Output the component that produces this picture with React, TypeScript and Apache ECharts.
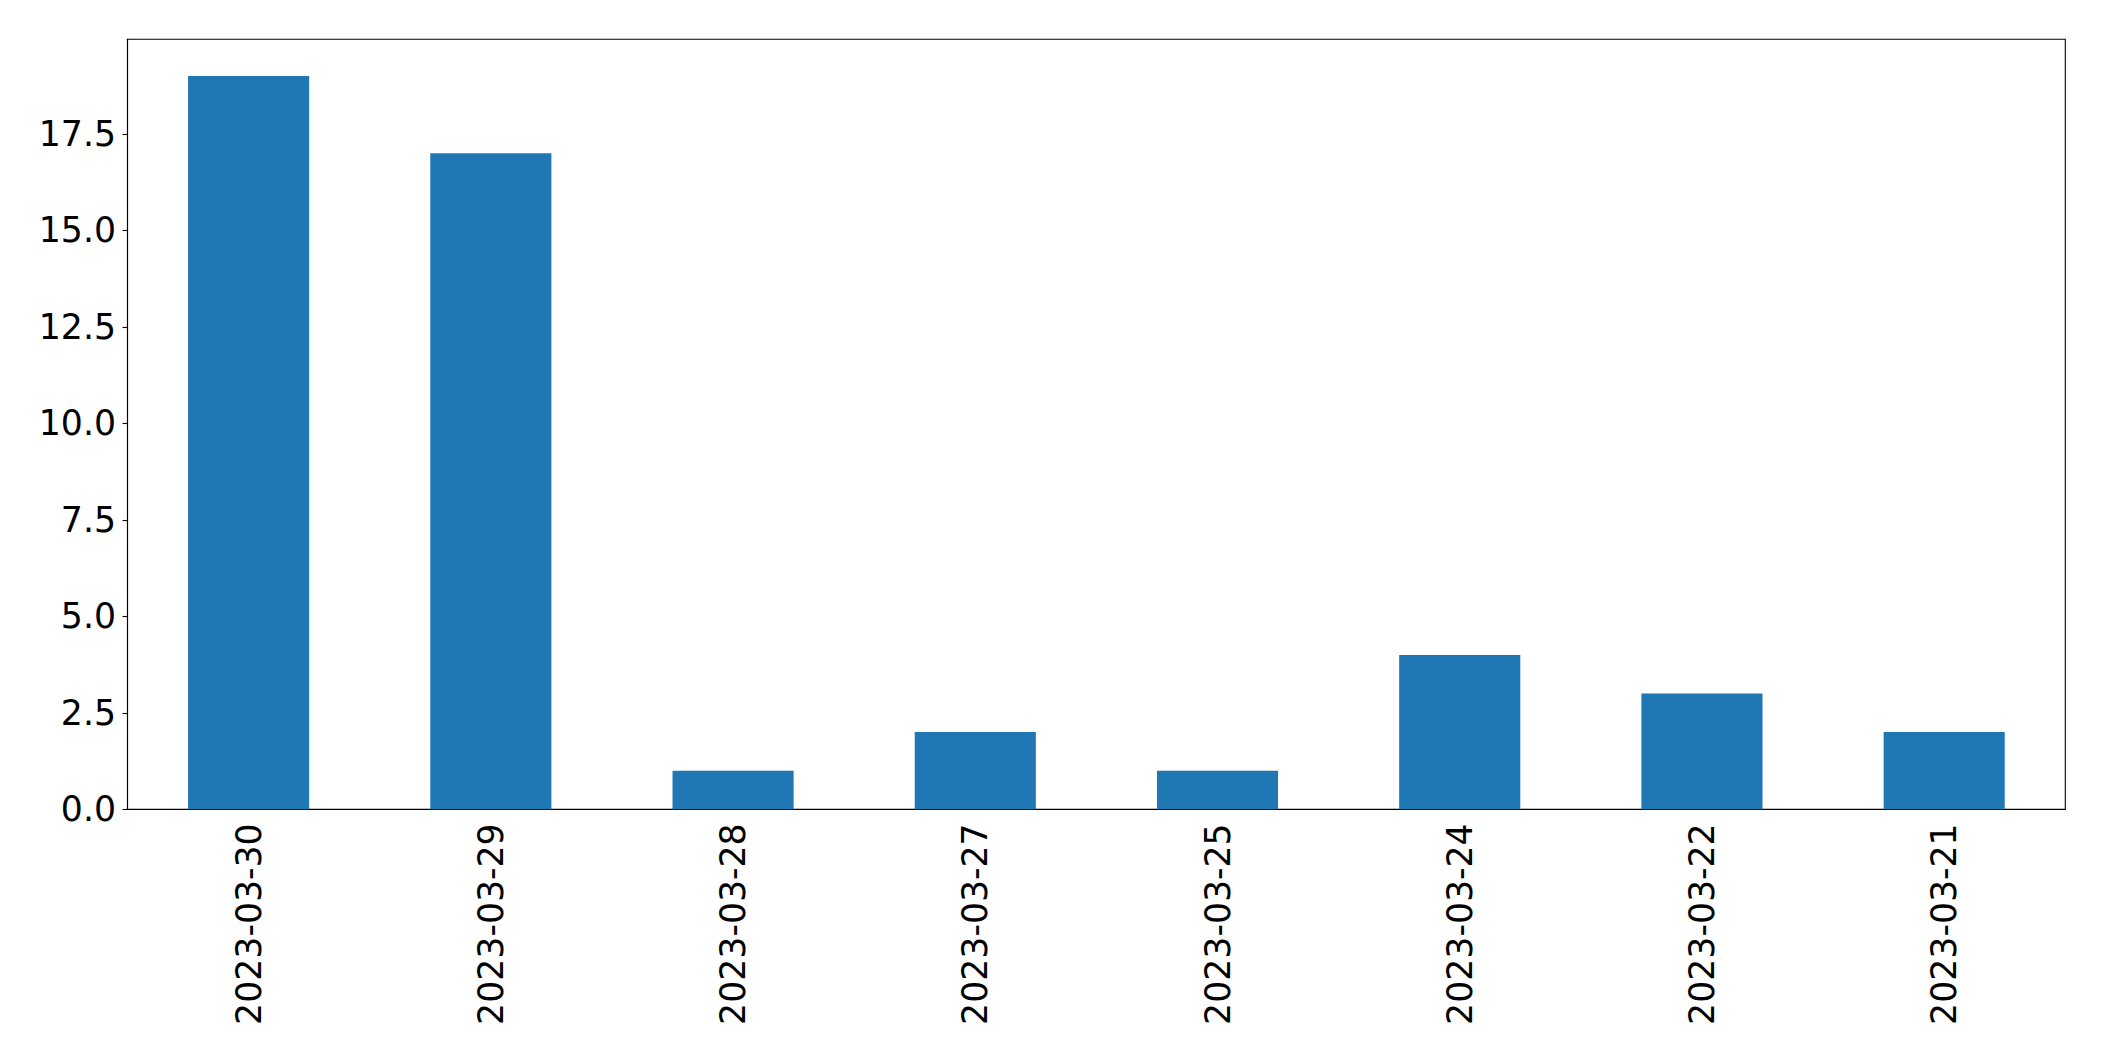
import React, { useEffect, useRef } from "react";
import * as echarts from "echarts";

const categories = ["2023-03-30", "2023-03-29", "2023-03-28", "2023-03-27", "2023-03-25", "2023-03-24", "2023-03-22", "2023-03-21"];
const values = [19, 17, 1, 2, 1, 4, 3, 2];
const yTicks = [0, 2.5, 5, 7.5, 10, 12.5, 15, 17.5];

export default function App() {
  const ref = useRef<HTMLDivElement>(null);
  useEffect(() => {
    document.body.style.margin = "0";
    const chart = echarts.init(ref.current!, null, { renderer: "svg" });
    chart.setOption({
      animation: false,
      textStyle: { fontFamily: "DejaVu Sans" },
      grid: {
        left: 127.5,
        top: 39.3,
        right: 38.7,
        bottom: 251.7,
        show: true,
        borderColor: "#000",
        borderWidth: 1.1,
        backgroundColor: "transparent",
      },
      xAxis: {
        type: "category",
        data: categories,
        boundaryGap: true,
        axisLine: { lineStyle: { color: "#000", width: 1.1 } },
        axisTick: { alignWithLabel: true, length: 5, lineStyle: { color: "#000", width: 1.1 } },
        axisLabel: { rotate: 90, fontSize: 34.7, color: "#000", margin: 14, fontFamily: "DejaVu Sans" },
        splitLine: { show: false },
      },
      yAxis: {
        type: "value",
        min: 0,
        max: 19.95,
        axisLine: { show: true, lineStyle: { color: "#000", width: 1.1 } },
        axisTick: { show: true, length: 5, customValues: yTicks, lineStyle: { color: "#000", width: 1.1 } },
        axisLabel: {
          fontSize: 34.7,
          color: "#000",
          margin: 11.5,
          fontFamily: "DejaVu Sans",
          customValues: yTicks,
          formatter: (v: number) => v.toFixed(1),
        },
        splitLine: { show: false },
      },
      series: [
        {
          type: "bar",
          data: values,
          barWidth: "50%",
          itemStyle: { color: "#1f77b4" },
        },
      ],
    });
    return () => chart.dispose();
  }, []);
  return <div ref={ref} style={{ position: "absolute", left: 0, top: 0, width: 2104, height: 1061 }} />;
}
